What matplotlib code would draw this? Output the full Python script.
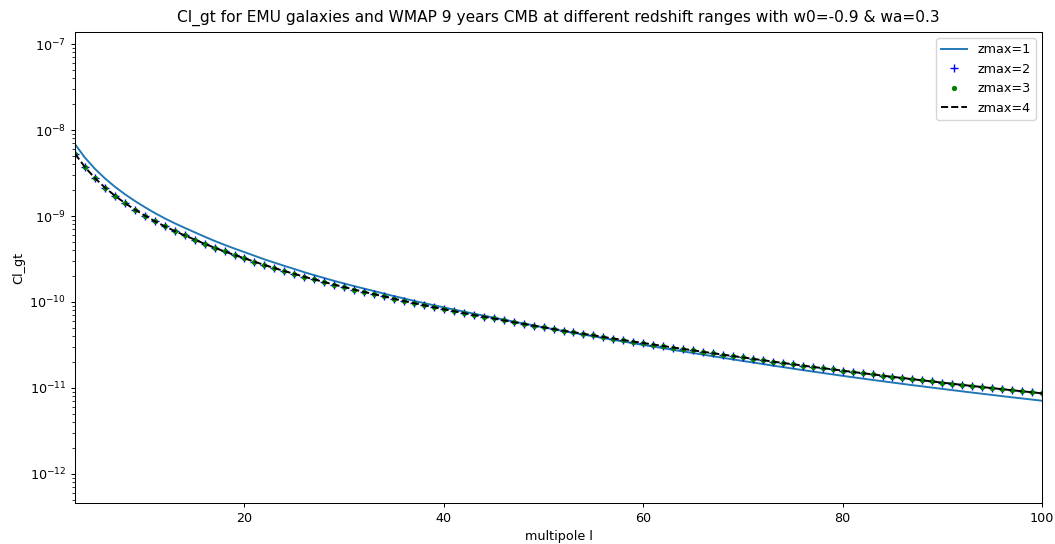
import numpy as np
import matplotlib
matplotlib.use("Agg")
import matplotlib.pyplot as plt

# multipoles
ell = list(range(3, 101))

# zmax=1
cl_zmax1 = [
    6.84e-9, 4.76e-9, 3.536e-9, 2.739e-9, 2.189e-9, 1.793e-9, 1.496e-9, 1.267e-9,
    1.084e-9, 9.39e-10, 8.23e-10, 7.28e-10, 6.47e-10, 5.75e-10, 5.13e-10, 4.62e-10,
    4.18e-10, 3.80e-10, 3.45e-10, 3.13e-10, 2.87e-10, 2.63e-10, 2.42e-10, 2.22e-10,
    2.05e-10, 1.90e-10, 1.76e-10, 1.64e-10, 1.53e-10, 1.43e-10, 1.34e-10, 1.25e-10,
    1.17e-10, 1.10e-10, 1.03e-10, 9.72e-11, 9.16e-11, 8.65e-11, 8.17e-11, 7.73e-11,
    7.32e-11, 6.94e-11, 6.59e-11, 6.24e-11, 5.92e-11, 5.62e-11, 5.34e-11, 5.07e-11,
    4.83e-11, 4.59e-11, 4.38e-11, 4.18e-11, 3.99e-11, 3.80e-11, 3.63e-11, 3.47e-11,
    3.31e-11, 3.16e-11, 3.03e-11, 2.90e-11, 2.77e-11, 2.66e-11, 2.55e-11, 2.44e-11,
    2.34e-11, 2.24e-11, 2.15e-11, 2.06e-11, 1.98e-11, 1.90e-11, 1.82e-11, 1.75e-11,
    1.68e-11, 1.615e-11, 1.553e-11, 1.494e-11, 1.439e-11, 1.384e-11, 1.334e-11, 1.287e-11,
    1.241e-11, 1.198e-11, 1.157e-11, 1.117e-11, 1.079e-11, 1.044e-11, 1.009e-11, 9.76e-12,
    9.44e-12, 9.14e-12, 8.84e-12, 8.57e-12, 8.30e-12, 8.04e-12, 7.79e-12, 7.56e-12,
    7.33e-12, 7.11e-12,
]

# zmax=2 (zmax=3 and zmax=4 lie on top of it in the picture)
cl_zmax2 = [
    5.30e-9, 3.70e-9, 2.756e-9, 2.143e-9, 1.721e-9, 1.416e-9, 1.188e-9, 1.012e-9,
    8.71e-10, 7.59e-10, 6.69e-10, 5.95e-10, 5.32e-10, 4.75e-10, 4.28e-10, 3.87e-10,
    3.52e-10, 3.22e-10, 2.94e-10, 2.69e-10, 2.48e-10, 2.29e-10, 2.12e-10, 1.965e-10,
    1.827e-10, 1.704e-10, 1.592e-10, 1.49e-10, 1.395e-10, 1.31e-10, 1.232e-10, 1.16e-10,
    1.09e-10, 1.027e-10, 9.70e-11, 9.17e-11, 8.68e-11, 8.24e-11, 7.82e-11, 7.43e-11,
    7.07e-11, 6.74e-11, 6.43e-11, 6.12e-11, 5.83e-11, 5.56e-11, 5.31e-11, 5.07e-11,
    4.85e-11, 4.64e-11, 4.45e-11, 4.27e-11, 4.09e-11, 3.92e-11, 3.76e-11, 3.61e-11,
    3.47e-11, 3.33e-11, 3.20e-11, 3.075e-11, 2.955e-11, 2.845e-11, 2.739e-11, 2.634e-11,
    2.535e-11, 2.442e-11, 2.352e-11, 2.267e-11, 2.183e-11, 2.104e-11, 2.028e-11, 1.957e-11,
    1.888e-11, 1.823e-11, 1.761e-11, 1.702e-11, 1.646e-11, 1.591e-11, 1.538e-11, 1.488e-11,
    1.439e-11, 1.393e-11, 1.349e-11, 1.307e-11, 1.266e-11, 1.228e-11, 1.190e-11, 1.155e-11,
    1.121e-11, 1.088e-11, 1.056e-11, 1.026e-11, 9.97e-12, 9.69e-12, 9.42e-12, 9.16e-12,
    8.91e-12, 8.67e-12,
]
cl_zmax3 = list(cl_zmax2)
cl_zmax4 = list(cl_zmax2)

labels = ["zmax=1", "zmax=2", "zmax=3", "zmax=4"]

s = 0.92
plt.rcParams.update({
    "font.size": 10 * s,
    "lines.linewidth": 1.5 * s,
    "lines.markersize": 6 * s,
    "axes.linewidth": 0.8 * s,
    "xtick.major.size": 3.5 * s, "ytick.major.size": 3.5 * s,
    "xtick.minor.size": 2 * s, "ytick.minor.size": 2 * s,
    "xtick.major.pad": 3.5 * s, "ytick.major.pad": 3.5 * s,
    "xtick.major.width": 0.8 * s, "ytick.major.width": 0.8 * s,
    "ytick.minor.width": 0.6 * s,
})

fig = plt.figure(figsize=(10.55, 5.44), dpi=100)
ax = fig.add_axes([0.0711, 0.0754, 0.9166, 0.8658])

ax.plot(ell, cl_zmax1, "-", color="#1f77b4", label=labels[0])
ax.plot(ell, cl_zmax2, "b+", label=labels[1])
ax.plot(ell, cl_zmax3, "g.", label=labels[2])
ax.plot(ell, cl_zmax4, "k--", label=labels[3])

ax.set_yscale("log")
ax.set_xlim(3, 100)
ax.set_ylim(4.6e-13, 1.38e-7)
ax.set_xticks([20, 40, 60, 80, 100])
ax.set_xlabel("multipole l", labelpad=3.5)
ax.set_ylabel("Cl_gt", labelpad=3)
ax.set_title("Cl_gt for EMU galaxies and WMAP 9 years CMB at different redshift ranges with w0=-0.9 & wa=0.3", fontsize=12 * s, pad=7.5)
ax.legend(loc="upper right")

fig.savefig("out.png", dpi=100)
